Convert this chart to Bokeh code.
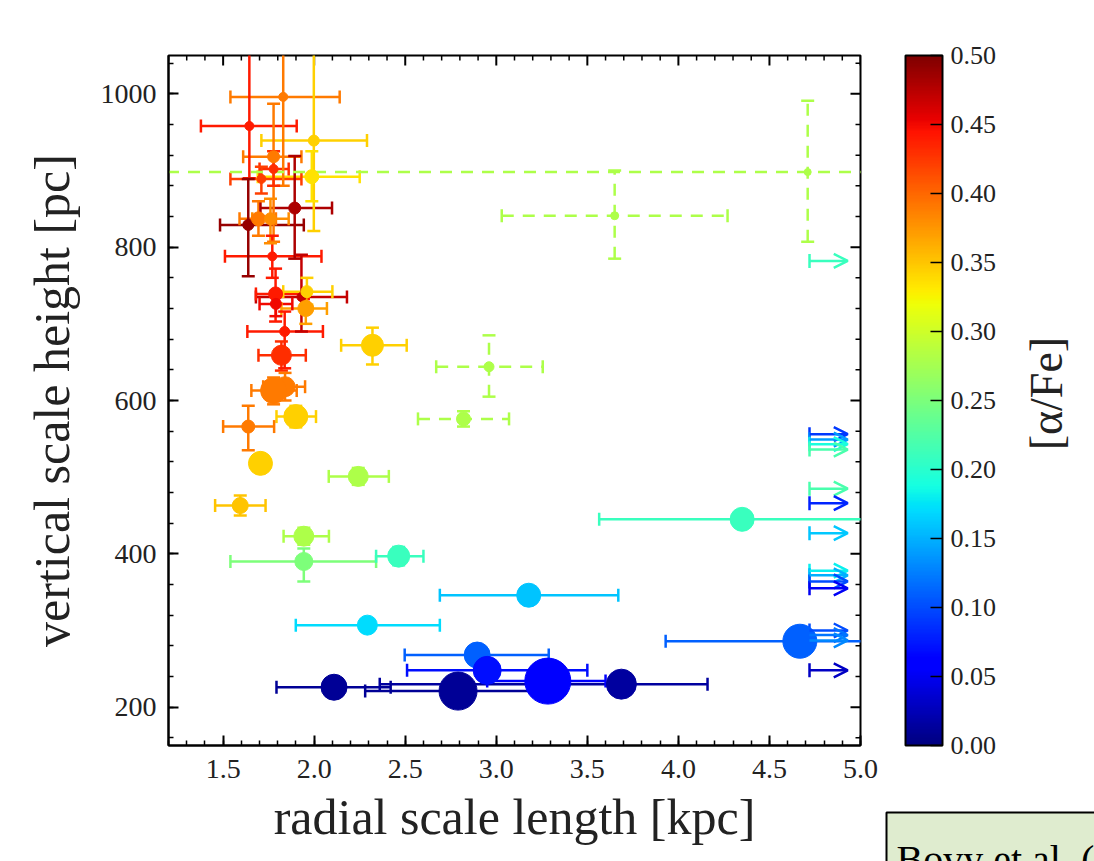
import numpy as np
from bokeh.plotting import figure
from bokeh.layouts import row
from bokeh.models import (ColumnDataSource, LinearColorMapper, FixedTicker, PrintfTickFormatter,
                          Arrow, OpenHead, Range1d)
from bokeh.transform import linear_cmap
from bokeh.embed import file_html
from bokeh.resources import INLINE

# ---------------- data ----------------
scale_length = [1.644, 1.83, 1.998, 1.987, 1.777, 1.777, 1.71, 1.893, 1.638, 1.694, 1.76, 1.77,
                1.93, 1.788, 1.79, 1.96, 1.954,
                1.838, 1.82, 1.84, 1.777, 1.899, 1.638, 1.705, 1.594, 2.242, 2.32, 1.943, 1.943, 2.464,
                2.82, 2.96, 3.65, 4.71,
                2.292, 3.178, 4.35, 4.667, 2.109, 3.687, 2.79, 2.895, 2.95, 3.283]
scale_height = [958, 996, 939, 892, 918, 902, 889, 851, 829, 837, 837, 788,
                735, 739, 726, 742, 720,
                690, 659, 618, 613, 579, 566, 518, 463, 501, 672, 390, 423, 397,
                576, 644, 841, 898,
                307, 346, 445, 286, 226, 230, 221, 268, 248, 234]
length_lo = [1.378, 1.54, 1.71, 1.69, 1.61, 1.70, 1.54, 1.705, 1.483, 1.59, 1.66, 1.51,
             1.68, 1.68, 1.70, 1.83, 1.82,
             1.633, 1.694, 1.72, 1.655, 1.793, 1.50, 1.705, 1.456, 2.08, 2.148, 1.54, 1.832, 2.34,
             2.57, 2.67, 3.03, 0.5,
             1.899, 2.69, 3.565, 3.93, 1.793, 2.36, 2.28, 2.497, 2.51, 2.95]
length_hi = [1.904, 2.14, 2.29, 2.25, 1.93, 1.86, 1.93, 2.098, 1.943, 1.79, 1.86, 2.04,
             2.18, 1.97, 1.88, 2.10, 2.07,
             2.048, 1.954, 1.95, 1.904, 2.01, 1.78, 1.705, 1.733, 2.41, 2.508, 2.34, 2.081, 2.60,
             3.07, 3.255, 4.27, 6.0,
             2.69, 3.67, 5.6, 5.6, 2.42, 4.16, 3.3, 3.288, 3.5, 3.6]
height_lo = [890, 880, 821, 860, 807, 880, 870, 785, 762, 815, 805, 760,
             690, 703, 710, 725, 700,
             642, 639, 600, 595, 565, 535, 518, 450, 490, 647, 364, 412, 385,
             566, 605, 785, 807,
             307, 346, 445, 286, 226, 230, 221, 268, 248, 234]
height_hi = [1080, 1080, 1080, 925, 987, 925, 905, 919, 889, 860, 863, 815,
             790, 772, 742, 760, 740,
             716, 677, 636, 630, 593, 593, 518, 476, 512, 695, 407, 434, 409,
             586, 685, 900, 991,
             307, 346, 445, 286, 226, 230, 221, 268, 248, 234]
alpha_fe = [0.44, 0.39, 0.345, 0.335, 0.39, 0.43, 0.42, 0.48, 0.49, 0.39, 0.38, 0.44,
            0.47, 0.44, 0.45, 0.345, 0.37,
            0.44, 0.43, 0.39, 0.39, 0.345, 0.39, 0.345, 0.35, 0.28, 0.345, 0.25, 0.28, 0.21,
            0.28, 0.28, 0.28, 0.28,
            0.17, 0.16, 0.21, 0.11, 0.01, 0.015, 0.01, 0.11, 0.07, 0.06]
n_stars = [16, 16, 36, 81, 49, 16, 16, 49, 36, 81, 49, 16,
           16, 81, 36, 49, 121,
           25, 225, 225, 441, 361, 64, 361, 121, 225, 289, 169, 225, 289,
           81, 25, 9, 4,
           225, 361, 361, 841, 441, 625, 1089, 441, 529, 1681]
poor_fit = [0] * 30 + [1, 1, 1, 1] + [0] * 10

# lower limits on the radial scale length (arrows)
limit_length = [4.72] * 16
limit_height = [782, 556, 549, 543, 536, 485, 466, 427, 378, 372, 364, 355, 300, 294, 287, 248]
limit_alpha_fe = [0.21, 0.09, 0.14, 0.19, 0.22, 0.22, 0.08, 0.16, 0.18, 0.15, 0.10, 0.05,
                  0.10, 0.12, 0.13, 0.03]

x_ticks = [1.5, 2.0, 2.5, 3.0, 3.5, 4.0, 4.5, 5.0]
y_ticks = [200, 400, 600, 800, 1000]
cbar_ticks = [0.0, 0.05, 0.10, 0.15, 0.20, 0.25, 0.30, 0.35, 0.40, 0.45, 0.50]
citation = "Bovy et al. ("

# ---------------- jet palette ----------------
def jet_palette(n=256):
    t = np.linspace(0, 1, n)
    r = np.interp(t, [0, 0.35, 0.66, 0.89, 1], [0, 0, 1, 1, 0.5])
    g = np.interp(t, [0, 0.125, 0.375, 0.64, 0.91, 1], [0, 0, 1, 1, 0, 0])
    b = np.interp(t, [0, 0.11, 0.34, 0.65, 1], [0.5, 1, 1, 0, 0])
    return ["#%02x%02x%02x" % (int(round(a * 255)), int(round(c * 255)), int(round(d * 255)))
            for a, c, d in zip(r, g, b)]

JET = jet_palette()
LOW, HIGH = 0.0, 0.5
cmap = linear_cmap("afe", JET, LOW, HIGH)
mapper = LinearColorMapper(palette=JET, low=LOW, high=HIGH)

def color_of(v):
    i = int(round((v - LOW) / (HIGH - LOW) * 255))
    return JET[max(0, min(255, i))]

FONT = "Liberation Serif"
TXT = "#222222"
X0, X1, Y0, Y1 = 1.2, 5.0, 150, 1050

# ---------------- main panel ----------------
p = figure(frame_width=692, frame_height=690, min_border_left=168, min_border_top=55,
           min_border_bottom=116, min_border_right=24,
           x_range=Range1d(X0, X1), y_range=Range1d(Y0, Y1),
           output_backend="svg", toolbar_location=None, tools="")
p.frame_align = False
p.background_fill_color = "white"
p.border_fill_color = "white"
p.outline_line_color = "black"
p.outline_line_width = 2
p.grid.visible = False

xt = FixedTicker(ticks=x_ticks, minor_ticks=list(np.round(np.arange(1.2, 5.01, 0.1), 2)))
yt = FixedTicker(ticks=y_ticks, minor_ticks=list(range(160, 1050, 40)))
p.xaxis.ticker = xt
p.yaxis.ticker = yt
p.xaxis.formatter = PrintfTickFormatter(format="%.1f")
for ax in p.xaxis + p.yaxis:
    ax.major_tick_in = 10
    ax.major_tick_out = 0
    ax.minor_tick_in = 5
    ax.minor_tick_out = 0
    ax.major_tick_line_width = 2
    ax.minor_tick_line_width = 1.5
    ax.axis_line_width = 2
    ax.major_label_text_font = FONT
    ax.major_label_text_font_size = "28px"
    ax.major_label_text_color = TXT
    ax.axis_label_text_font = FONT
    ax.axis_label_text_font_style = "normal"
    ax.axis_label_text_color = TXT
    ax.axis_label_text_font_size = "50px"
p.xaxis.axis_label = "radial scale length [kpc]"
p.yaxis.axis_label = "vertical scale height [pc]"
p.xaxis.major_label_standoff = 14
p.yaxis.major_label_standoff = 12
p.xaxis.axis_label_standoff = 8
p.yaxis.axis_label_standoff = 18

# inward ticks on the top and right edges (markers clipped by the frame)
minor_x = [v for v in xt.minor_ticks if v not in x_ticks]
minor_y = [v for v in yt.minor_ticks if v not in y_ticks]
p.scatter(x=x_ticks, y=[Y1] * len(x_ticks), marker="dash", angle=np.pi / 2, size=20,
          line_color="black", line_width=2)
p.scatter(x=minor_x, y=[Y1] * len(minor_x), marker="dash", angle=np.pi / 2, size=10,
          line_color="black", line_width=1.5)
p.scatter(x=[X1] * len(y_ticks), y=y_ticks, marker="dash", size=20,
          line_color="black", line_width=2)
p.scatter(x=[X1] * len(minor_y), y=minor_y, marker="dash", size=10,
          line_color="black", line_width=1.5)

n = len(scale_length)
def make_src(idx):
    return ColumnDataSource(dict(
        x=[scale_length[i] for i in idx], y=[scale_height[i] for i in idx],
        xlo=[length_lo[i] for i in idx], xhi=[length_hi[i] for i in idx],
        ylo=[height_lo[i] for i in idx], yhi=[height_hi[i] for i in idx],
        afe=[alpha_fe[i] for i in idx],
        size=[5 + np.sqrt(n_stars[i]) for i in idx]))

def make_caps(idx):
    cx, cy, ang, afe = [], [], [], []
    for i in idx:
        if length_hi[i] > length_lo[i]:
            for v in (length_lo[i], length_hi[i]):
                cx.append(v); cy.append(scale_height[i]); ang.append(np.pi / 2); afe.append(alpha_fe[i])
        if height_hi[i] > height_lo[i]:
            for v in (height_lo[i], height_hi[i]):
                cx.append(scale_length[i]); cy.append(v); ang.append(0.0); afe.append(alpha_fe[i])
    return ColumnDataSource(dict(x=cx, y=cy, ang=ang, afe=afe))

good = [i for i in range(n) if not poor_fit[i]]
poor = [i for i in range(n) if poor_fit[i]]

for idx, dash in ((good, "solid"), (poor, "12 9")):
    s = make_src(idx)
    p.segment(x0="xlo", y0="y", x1="xhi", y1="y", source=s, line_color=cmap,
              line_width=2.5, line_dash=dash)
    p.segment(x0="x", y0="ylo", x1="x", y1="yhi", source=s, line_color=cmap,
              line_width=2.5, line_dash=dash)
    c = make_caps(idx)
    p.scatter(x="x", y="y", angle="ang", source=c, marker="dash", size=13,
              line_color=cmap, line_width=2.5)

lim_src = ColumnDataSource(dict(x=limit_length, y=limit_height, afe=limit_alpha_fe))
p.scatter(x="x", y="y", source=lim_src, marker="dash", angle=np.pi / 2, size=14,
          line_color=cmap, line_width=2.5)
for xs, yv, a in zip(limit_length, limit_height, limit_alpha_fe):
    col = color_of(a)
    p.add_layout(Arrow(end=OpenHead(size=14, line_color=col, line_width=2.5),
                       x_start=xs, y_start=yv, x_end=xs + 0.21, y_end=yv,
                       line_color=col, line_width=2.5))

all_src = make_src(list(range(n)))
p.scatter(x="x", y="y", size="size", source=all_src, marker="circle",
          fill_color=cmap, line_color=cmap, line_width=1)

# ---------------- colour-bar panel ----------------
PX = 1380.0  # pixels per unit of [alpha/Fe] on the bar (690 px for 0.5)
W = 1094 - 884
OFF = 884
cbf = figure(frame_width=W, frame_height=861, min_border=0,
             x_range=Range1d(OFF, OFF + W), y_range=Range1d(-116 / PX, HIGH + 55 / PX),
             x_axis_type=None, y_axis_type=None,
             output_backend="svg", toolbar_location=None, tools="")
cbf.frame_align = False
cbf.outline_line_color = None
cbf.grid.visible = False
cbf.background_fill_color = "white"
cbf.border_fill_color = "white"

cbf.image(image=[np.linspace(LOW, HIGH, 256).reshape(256, 1)], x=905, y=LOW, dw=37,
          dh=HIGH - LOW, color_mapper=mapper)
cbf.segment(x0=[930] * len(cbar_ticks), y0=cbar_ticks, x1=[942] * len(cbar_ticks),
            y1=cbar_ticks, line_color="black", line_width=1.5)
cbf.quad(left=[905], right=[942], bottom=[LOW], top=[HIGH], fill_color=None,
         line_color="black", line_width=2)
cbf.text(x=[950] * len(cbar_ticks), y=cbar_ticks, text=["%.2f" % t for t in cbar_ticks],
         text_baseline="middle", text_align="left", text_font={"value": FONT},
         text_font_size={"value": "26px"}, text_color=TXT)
cbf.text(x=[1046], y=[0.255], text=["[α/Fe]"], angle=np.pi / 2, text_align="center",
         text_baseline="middle", text_font={"value": FONT},
         text_font_size={"value": "46px"}, text_color=TXT)

# citation box of the slide (lower right)
cbf.quad(left=[886], right=[1120], bottom=[-0.2], top=[-(812 - 745) / PX],
         fill_color="#dfeccf", line_color="black", line_width=2)
cbf.text(x=[896], y=[-(836 - 745) / PX], text=[citation], text_baseline="top",
         text_align="left", text_font={"value": FONT},
         text_font_size={"value": "40px"}, text_color="black")

layout = row(p, cbf, spacing=0)
open("out.html", "w").write(file_html(layout, INLINE))
